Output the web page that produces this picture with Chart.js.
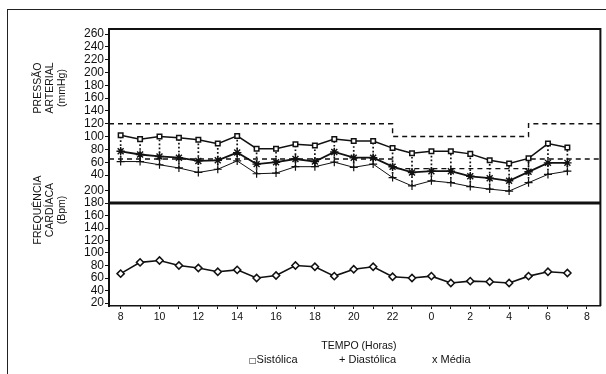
<!DOCTYPE html>
<html><head><meta charset="utf-8">
<script src="https://cdn.jsdelivr.net/npm/chart.js@4.4.1/dist/chart.umd.min.js"></script>
<style>
body{margin:0;background:#fff;}
#wrap{position:relative;width:606px;height:374px;overflow:hidden;font-family:"Liberation Sans",Arial,sans-serif;color:#111;background:#fff;}
#c{position:absolute;left:0;top:0;}
.frame{position:absolute;left:7px;top:9px;width:800px;height:600px;border-left:1.5px solid #222;border-top:1.5px solid #222;}
.ytitle{position:absolute;font-size:10.5px;line-height:12px;text-align:center;white-space:nowrap;transform:translate(-50%,-50%) rotate(-90deg);}
.txt{position:absolute;white-space:nowrap;line-height:1;}
</style></head>
<body>
<div id="wrap">
  <canvas id="c" width="606" height="374"></canvas>
  <div class="frame"></div>
  <div class="ytitle" style="left:49px;top:88px;">PRESSÃO<br>ARTERIAL<br>(mmHg)</div>
  <div class="ytitle" style="left:49px;top:210px;">FREQUÊNCIA<br>CARDÍACA<br>(Bpm)</div>
  <div class="txt" style="left:359px;top:340px;font-size:10.5px;transform:translateX(-50%);">TEMPO (Horas)</div>
  <div class="txt" style="left:249px;top:354px;font-size:11px;"><span style="font-size:8px;font-family:'DejaVu Sans';">□</span>Sistólica</div>
  <div class="txt" style="left:339px;top:354px;font-size:11px;">+ Diastólica</div>
  <div class="txt" style="left:432px;top:354px;font-size:11px;">x Média</div>
</div>
<script>
// ---- data ----
const hours = [8,9,10,11,12,13,14,15,16,17,18,19,20,21,22,23,0,1,2,3,4,5,6,7];
const sistolica  = [102,96,100,98,95,89,101,81,81,88,86,96,93,93,82,74,77,77,73,63,58,66,89,83];
const media      = [77,72,69,67,62,63,75,57,60,65,61,76,67,67,53,44,46,46,38,35,31,45,59,59];
const diastolica = [61,61,56,51,44,49,62,42,43,53,53,60,52,57,36,23,31,28,22,18,15,28,41,46];
const freqCardiaca = [67,85,88,80,76,70,73,60,64,80,78,63,74,78,62,60,63,52,55,54,52,63,70,68];
// reference limits (dashed): day / night / day
const limitHours = [8,22,5];
const limiteSistolica  = [120,100,120];
const limiteDiastolica = [65,50,65];
// tick labels
const paTicks = [260,240,220,200,180,160,140,120,100,80,60,40];
const fcTicks = [200,180,160,140,120,100,80,60,40,20];
const xTickHours = [8,9,10,11,12,13,14,15,16,17,18,19,20,21,22,23,0,1,2,3,4,5,6,7,8];
const fcPanelTop = 180;

// ---- scales: two panels share one vertical panel-scale ----
const Y_MAX = 277;
const paY = v => 272 - (260 - v) * 0.641;   // pressure panel
const fcY = v => 3 + (v - 20) * 0.625;      // heart-rate panel
const X_MIN = -0.6, X_MAX = 24.7;
const hx = h => (h - 8 + 24) % 24;
const xi = hours.map(hx);

const pts = (arr, f) => arr.map((v, i) => ({x: xi[i], y: f(v)}));
const connectors = [];
xi.forEach((x, i) => {
  connectors.push({x, y: paY(diastolica[i])}, {x, y: paY(sistolica[i])}, {x, y: null});
});
const limitLine = vals => {
  const d = limitHours.map((h, i) => ({x: i === 0 ? X_MIN : hx(h), y: paY(vals[i])}));
  d.push({x: X_MAX, y: paY(vals[vals.length - 1])});
  return d;
};
const xTickVals = xTickHours.map((h, i) => i);
const yTickVals = paTicks.map(paY).concat(fcTicks.map(fcY));
const yTickLabels = paTicks.concat(fcTicks).map(String);

const INK = '#111';
const boxPlugin = {
  id: 'box',
  afterDatasetsDraw(chart) {
    const {ctx, chartArea: a, scales: {y}} = chart;
    ctx.save();
    ctx.strokeStyle = INK;
    ctx.lineWidth = 2;
    ctx.beginPath();
    ctx.moveTo(a.left, a.top); ctx.lineTo(a.right, a.top); ctx.lineTo(a.right, a.bottom);
    ctx.stroke();
    const yd = y.getPixelForValue(fcY(fcPanelTop));
    ctx.lineWidth = 3;
    ctx.beginPath(); ctx.moveTo(a.left - 1, yd); ctx.lineTo(a.right, yd); ctx.stroke();
    ctx.restore();
  }
};

new Chart(document.getElementById('c'), {
  type: 'line',
  data: {
    datasets: [
      {label: 'Sistólica', data: pts(sistolica, paY), borderColor: INK, borderWidth: 1.5,
       pointStyle: 'rect', pointRadius: 3.2, pointBackgroundColor: '#fff', pointBorderColor: INK, pointBorderWidth: 1.5, order: 0},
      {label: 'Média', data: pts(media, paY), borderColor: INK, borderWidth: 1.8,
       pointStyle: 'star', pointRadius: 4.2, pointBorderColor: INK, pointBorderWidth: 1.4, order: 1},
      {label: 'Diastólica', data: pts(diastolica, paY), borderColor: INK, borderWidth: 1,
       pointStyle: 'cross', pointRadius: 4, pointBorderColor: INK, pointBorderWidth: 1.2, order: 2},
      {label: 'ligação', data: connectors, borderColor: INK, borderWidth: 1.7, borderDash: [1.7, 2.2],
       pointRadius: 0, spanGaps: false, order: 5},
      {label: 'limite sistólica', data: limitLine(limiteSistolica), stepped: true, borderColor: INK,
       borderWidth: 1.4, borderDash: [5, 4], pointRadius: 0, order: 6},
      {label: 'limite diastólica', data: limitLine(limiteDiastolica), stepped: true, borderColor: INK,
       borderWidth: 1.4, borderDash: [5, 4], pointRadius: 0, order: 6},
      {label: 'Frequência cardíaca', data: pts(freqCardiaca, fcY), borderColor: INK, borderWidth: 1.6,
       pointStyle: 'rectRot', pointRadius: 3.6, pointBackgroundColor: '#fff', pointBorderColor: INK, pointBorderWidth: 1.5, order: 0}
    ]
  },
  options: {
    responsive: false, animation: false, devicePixelRatio: 1,
    layout: {padding: {left: 0, right: 2, top: 29, bottom: 0}},
    plugins: {legend: {display: false}, tooltip: {enabled: false}},
    elements: {line: {tension: 0}},
    scales: {
      x: {
        type: 'linear', min: X_MIN, max: X_MAX,
        afterFit(s) { s.height = 68; },
        afterBuildTicks(s) { s.ticks = xTickVals.map(v => ({value: v})); },
        afterTickToLabelConversion(s) { s.ticks.forEach((t, i) => { t.label = i % 2 === 0 ? String(xTickHours[i]) : ''; }); },
        ticks: {autoSkip: false, maxRotation: 0, minRotation: 0, padding: 2, color: INK,
                font: {size: 10.5, family: '"Liberation Sans", Arial, sans-serif'}},
        grid: {drawOnChartArea: false, tickLength: 3, color: INK, lineWidth: 1},
        border: {color: INK, width: 1.5}
      },
      y: {
        type: 'linear', min: 0, max: Y_MAX,
        afterFit(s) { s.width = 109; },
        afterBuildTicks(s) { s.ticks = yTickVals.map(v => ({value: v})); },
        afterTickToLabelConversion(s) { s.ticks.forEach((t, i) => { t.label = yTickLabels[i]; }); },
        ticks: {autoSkip: false, padding: 1, color: INK,
                font: {size: 12, family: '"Liberation Sans", Arial, sans-serif'}},
        grid: {drawOnChartArea: false, tickLength: 4, color: INK, lineWidth: 1},
        border: {color: INK, width: 2}
      }
    }
  },
  plugins: [boxPlugin]
});
</script>
</body></html>
